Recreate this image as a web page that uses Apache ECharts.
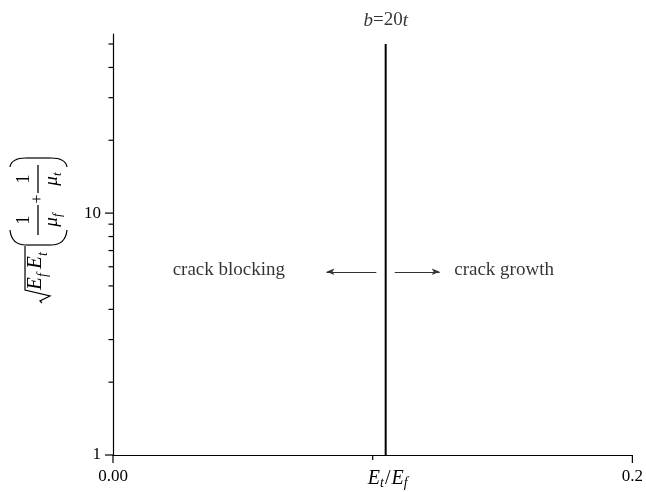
<!DOCTYPE html>
<html>
<head>
<meta charset="utf-8">
<script src="https://cdn.jsdelivr.net/npm/echarts@6/dist/echarts.min.js"></script>
<style>html,body{margin:0;padding:0;background:#fff}#c{width:646px;height:492px}</style>
</head>
<body>
<div id="c"></div>
<script>
// ---- data ----
const xTickValues = [0, 0.1, 0.2];
const xTickLabels = ['0.00', '{e0|E}{s|t}{n|/}{e|E}{s|f}', '0.2'];
const xMajorTicks = [0, 0.2];
const xMinorTicks = [0.1];
const yLabelValues = [1, 10];
const yLabelTexts = ['1', '10'];
const yMajorTicks = [1, 10];
const yMinorTicks = [2, 3, 4, 5, 6, 7, 8, 9, 20, 30, 40, 50];
const boundaryLine = [[0.105, 1], [0.105, 50]];
const boundaryTitle = '{i|b}{n|=20}{i|t}';
const leftArrow = [[0.1014, 5.72], [0.0822, 5.72]];
const rightArrow = [[0.1085, 5.72], [0.1258, 5.72]];
const regionNames = ['crack blocking', 'crack growth'];
const regionPositions = [[0.0446, 5.8], [0.1506, 5.8]];

const F = 'Liberation Serif, Times New Roman, serif';
const chart = echarts.init(document.getElementById('c'), null, {renderer: 'canvas'});

function tickSeries(data, axis) {
  return {
    type: 'custom', silent: true, clip: false, z: 5,
    data: data,
    renderItem: function (params, api) {
      const pt = api.coord([api.value(0), api.value(1)]);
      const len = api.value(2);
      let shape;
      if (axis === 'y') shape = {x1: pt[0] - len, y1: pt[1], x2: pt[0], y2: pt[1]};
      else shape = {x1: pt[0], y1: pt[1], x2: pt[0], y2: pt[1] + len};
      return {type: 'line', shape: shape, style: {stroke: '#000', lineWidth: 1.2}};
    }
  };
}

const yTickData = yMajorTicks.map(v => [0, v, 8]).concat(yMinorTicks.map(v => [0, v, 4.5]));
const xTickData = xMajorTicks.map(v => [v, 1, 8]).concat(xMinorTicks.map(v => [v, 1, 5]));

function txt(t, x, y, font, align) {
  return {type: 'text', x: x, y: y, style: {text: t, font: font, fill: '#000', align: align || 'left', verticalAlign: 'middle'}};
}
const stroke = {stroke: '#000', lineWidth: 1.2, fill: null};
function seg(x1, y1, x2, y2, w) {
  return {type: 'line', shape: {x1: x1, y1: y1, x2: x2, y2: y2}, style: {stroke: '#000', lineWidth: w || 1.2}};
}
function bez(x1, y1, c1x, c1y, c2x, c2y, x2, y2) {
  return {type: 'bezierCurve', shape: {x1: x1, y1: y1, cpx1: c1x, cpy1: c1y, cpx2: c2x, cpy2: c2y, x2: x2, y2: y2}, style: stroke};
}

const yTitle = {
  type: 'group', x: 38, y: 231, rotation: Math.PI / 2, silent: true,
  children: [
    {type: 'polyline', shape: {points: [[-72, 4], [-70, 2], [-65, 12], [-59, -13], [-15, -13]]}, style: stroke},
    txt('E', -59, -3, 'italic 21px ' + F),
    txt('f', -46, 5, 'italic 14px ' + F),
    txt('E', -38, -3, 'italic 21px ' + F),
    txt('t', -25, 5, 'italic 14px ' + F),
    // open paren
    bez(1, -28, -9, -27, -14, -22, -14, -12),
    seg(-14, -12, -14, 13),
    bez(-14, 13, -14, 23, -9, 28, 1, 29),
    // close paren
    bez(64, -28, 70, -27, 73, -22, 73, -12),
    seg(73, -12, 73, 13),
    bez(73, 13, 73, 23, 70, 28, 64, 29),
    seg(-4, 0, 26, 0, 1.3),
    seg(38, 0, 66, 0, 1.3),
    txt('1', 11, -14, '19px ' + F, 'center'),
    txt('1', 52, -14, '19px ' + F, 'center'),
    txt('μ', 9, 14, 'italic 19px ' + F, 'center'),
    txt('f', 14, 20, 'italic 13px ' + F),
    txt('μ', 50, 14, 'italic 19px ' + F, 'center'),
    txt('t', 55, 20, 'italic 13px ' + F),
    txt('+', 32, 0, '16px ' + F, 'center')
  ]
};

function near(a, b) { return Math.abs(a - b) < 1e-6 * Math.max(1, Math.abs(b)); }

chart.setOption({
  animation: false,
  backgroundColor: '#fff',
  grid: {left: 113, right: 13, top: 34, bottom: 37},
  xAxis: {
    type: 'value', min: 0, max: 0.2, interval: 0.1,
    axisLine: {lineStyle: {color: '#000', width: 1.2}},
    axisTick: {show: false},
    splitLine: {show: false},
    axisLabel: {
      margin: 13, color: '#000', fontFamily: F, fontSize: 17,
      formatter: function (v) {
        for (let i = 0; i < xTickValues.length; i++) if (near(v, xTickValues[i])) return xTickLabels[i];
        return '';
      },
      rich: {
        e0: {fontFamily: F, fontSize: 20, fontStyle: 'italic', lineHeight: 22, padding: [0, 0, 0, 30], color: '#000'},
        e: {fontFamily: F, fontSize: 20, fontStyle: 'italic', lineHeight: 22, color: '#000'},
        n: {fontFamily: F, fontSize: 20, lineHeight: 22, color: '#000', padding: [0, 1, 0, 1]},
        s: {fontFamily: F, fontSize: 14, fontStyle: 'italic', lineHeight: 10, verticalAlign: 'bottom', color: '#000'}
      }
    }
  },
  yAxis: {
    type: 'log', logBase: 10, min: 1, max: 55,
    axisLine: {lineStyle: {color: '#000', width: 1.2}},
    axisTick: {show: false},
    splitLine: {show: false},
    minorTick: {show: false},
    axisLabel: {
      margin: 12, color: '#000', fontFamily: F, fontSize: 17,
      formatter: function (v) {
        for (let i = 0; i < yLabelValues.length; i++) if (near(v, yLabelValues[i])) return yLabelTexts[i];
        return '';
      }
    }
  },
  graphic: [yTitle],
  series: [
    tickSeries(yTickData, 'y'),
    tickSeries(xTickData, 'x'),
    {
      type: 'line', data: boundaryLine, symbol: 'none', silent: true,
      lineStyle: {color: '#000', width: 2},
      markLine: {
        silent: true, animation: false,
        symbol: ['none', 'arrow'], symbolSize: [5, 8],
        label: {show: false},
        lineStyle: {color: '#333', width: 1, type: 'solid'},
        emphasis: {disabled: true},
        data: [
          [{coord: leftArrow[0]}, {coord: leftArrow[1]}],
          [{coord: rightArrow[0]}, {coord: rightArrow[1]}]
        ]
      }
    },
    {
      type: 'scatter', symbolSize: 0, silent: true,
      data: [boundaryLine[1]],
      label: {
        show: true, position: 'top', distance: 14,
        formatter: boundaryTitle,
        rich: {
          i: {fontFamily: F, fontSize: 19, fontStyle: 'italic', color: '#000'},
          n: {fontFamily: F, fontSize: 19, color: '#000'}
        }
      }
    },
    {
      type: 'scatter', symbolSize: 0, silent: true,
      data: regionPositions.map((p, i) => ({name: regionNames[i], value: p})),
      label: {
        show: true, position: 'inside', formatter: '{b}',
        fontFamily: F, fontSize: 19, color: '#000'
      }
    }
  ]
});
</script>
</body>
</html>
